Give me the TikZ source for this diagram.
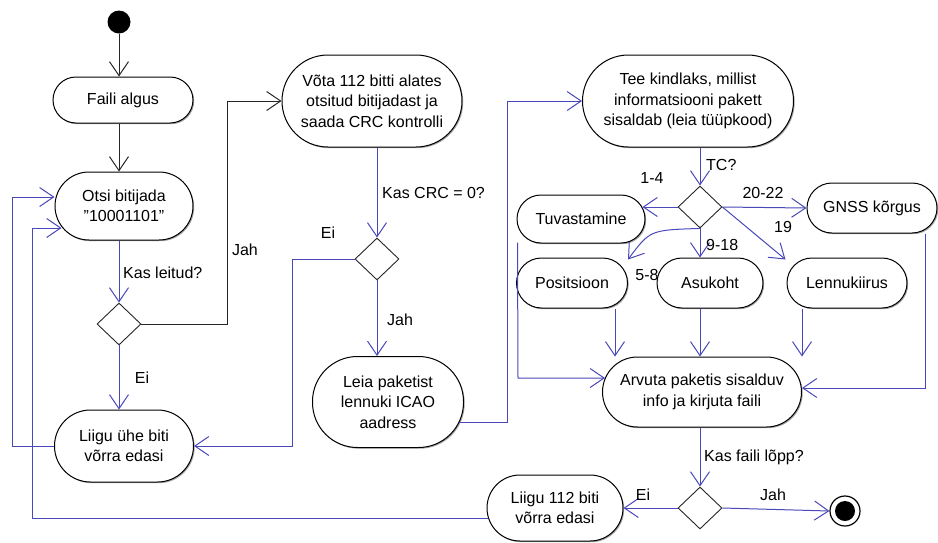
\documentclass[tikz,border=0pt]{standalone}
\usepackage{fontspec}
\setmainfont{Liberation Sans}
\usetikzlibrary{arrows.meta,shapes.geometric,shadows,calc}
\definecolor{umlblue}{RGB}{72,72,184}
\begin{document}
\begin{tikzpicture}[x=1pt,y=-1pt,
  act/.style n args={3}{draw=black,line width=1pt,fill=white,rectangle,inner sep=0pt,align=center,
    font=\fontsize{16}{20.5}\selectfont,minimum width=#1pt,minimum height=#2pt,rounded corners=#3pt,
    drop shadow={shadow xshift=1.2pt,shadow yshift=-1.2pt,fill=black!60,opacity=0.6}},
  dec/.style={draw=black!85,line width=0.9pt,fill=white,diamond,inner sep=0pt,minimum width=44pt,minimum height=42pt},
  flow/.style={umlblue,line width=1pt,-{Straight Barb[length=14pt,width=19pt]}},
  bflow/.style={black!85,line width=1pt,-{Straight Barb[length=14pt,width=19pt]}},
  lbl/.style={font=\fontsize{16}{19}\selectfont,inner sep=0pt}
]
\useasboundingbox (0,0) rectangle (938,542);

% nodes
\node[circle,fill=black,minimum size=23pt,inner sep=0pt] (start) at (119,22) {};
\node[act={140}{46}{23}] (faili) at (123,100) {Faili algus};
\node[act={138}{68}{34}] (otsi) at (124,206) {Otsi bitijada\\\symbol{34}10001101\symbol{34}};
\node[dec] (d1) at (119,324) {};
\node[act={139}{72}{36}] (liigu1) at (124,446) {Liigu ühe biti\\võrra edasi};
\node[act={180}{92}{46}] (vota) at (372,101) {Võta 112 bitti alates\\otsitud bitijadast ja\\saada CRC kontrolli};
\node[dec] (d2) at (377,259) {};
\node[act={151}{91}{45}] (leia) at (388,402) {Leia paketist\\lennuki ICAO\\aadress};
\node[act={211}{92}{46}] (tee) at (688,101) {Tee kindlaks, millist\\informatsiooni pakett\\sisaldab (leia tüüpkood)};
\node[dec] (d3) at (700,207) {};
\node[act={128}{48}{24}] (tuv) at (581,219) {Tuvastamine};
\node[act={130}{50}{25}] (gnss) at (872,208) {GNSS kõrgus};
\node[act={111}{50}{25}] (pos) at (572,283) {Positsioon};
\node[lbl] at (647,275) {5-8};
\node[act={106}{50}{25}] (asu) at (710,283) {Asukoht};
\node[act={120}{50}{25}] (lenn) at (847,283) {Lennukiirus};
\node[act={199}{70}{35}] (arv) at (702,392) {Arvuta paketis sisalduv\\info ja kirjuta faili};
\node[dec] (d4) at (700,508) {};
\node[act={136}{66}{33}] (liigu2) at (555,508) {Liigu 112 biti\\võrra edasi};
\node[circle,draw=black,line width=1.2pt,fill=white,minimum size=30pt,inner sep=0pt] (end) at (845,511) {};
\node[circle,fill=black,minimum size=20pt,inner sep=0pt] (endin) at (end) {};

% left column
\draw[bflow] (start) -- (start |- faili.north);
\draw[bflow] (faili.south -| start) -- (start |- otsi.north);
\draw[flow] (otsi.south -| d1) -- (d1.north);
\node[lbl,anchor=west] at (123,273) {Kas leitud?};
\coordinate (c1) at (227,324);
\draw[bflow] (d1.east) -- (c1) |- (vota.west);
\node[lbl] at (245,250) {Jah};
\draw[flow] (d1.south) -- (d1 |- liigu1.north);
\node[lbl] at (142,378) {Ei};
\coordinate (c2) at (12,197);
\draw[flow] (liigu1.west) -| (c2) -- (c2 -| otsi.west);
\coordinate (c3) at (32,228);
\coordinate (c3b) at (32,518);
\draw[flow] ($(liigu2.west)+(1.5,10)$) -- (c3b) -- (c3) -- ($(otsi.west)+(7,22)$);

% middle column
\draw[flow] (vota.south -| d2) -- (d2.north);
\node[lbl,anchor=west] at (382,193) {Kas CRC = 0?};
\coordinate (c4) at (292,446);
\draw[flow] (d2.west) -| (c4) -- (liigu1.east);
\node[lbl] at (328,233) {Ei};
\draw[flow] (d2.south) -- (d2 |- leia.north);
\node[lbl] at (400,320) {Jah};
\coordinate (c5) at (507,422);
\draw[flow] ($(leia.east)+(-4.6,20)$) -- (c5) |- (tee.west);

% right part
\draw[flow] (tee.south -| d3) -- (d3.north);
\node[lbl,anchor=west] at (706,165) {TC?};
\draw[flow] (d3.west) -- ($(tuv.east)+(-3,-12)$);
\node[lbl] at (652,178) {1-4};
\draw[flow] (d3.east) -- (gnss.west);
\node[lbl] at (763,193) {20-22};
\draw[flow] (d3.east) -- ($(lenn.north west)+(-1,2)$);
\node[lbl] at (783,227) {19};
\draw[flow] (d3.south) -- (d3 |- asu.north);
\node[lbl,anchor=west] at (706,245) {9-18};
\draw[flow] (d3.south) .. controls (650,230) .. ($(pos.north east)+(0,2)$);

\coordinate (p1) at ($(pos.south)+(43,0)$);
\draw[flow] (p1) -- (p1 |- arv.north);
\draw[flow] (asu.south -| d3) -- (d3 |- arv.north);
\coordinate (p3) at ($(lenn.south)+(-45,0)$);
\draw[flow] (p3) -- (p3 |- arv.north);
\coordinate (t1) at ($(tuv.south west)+(1,-1)$);
\coordinate (t2) at (518,378);
\draw[flow] (t1) -- (t2) -- ($(arv.west)+(3,-14)$);
\coordinate (g1) at ($(gnss.south)+(53,0)$);
\coordinate (g2) at (925,388);
\draw[flow] (g1) -- (g2) -- ($(arv.east)+(0,-4)$);

\draw[flow] (arv.south -| d4) -- (d4.north);
\node[lbl,anchor=west] at (704,457) {Kas faili lõpp?};
\draw[flow] (d4.west) -- (liigu2.east);
\node[lbl] at (643,495) {Ei};
\draw[flow] (d4.east) -- (end.west);
\node[lbl] at (773,495) {Jah};
\end{tikzpicture}
\end{document}
